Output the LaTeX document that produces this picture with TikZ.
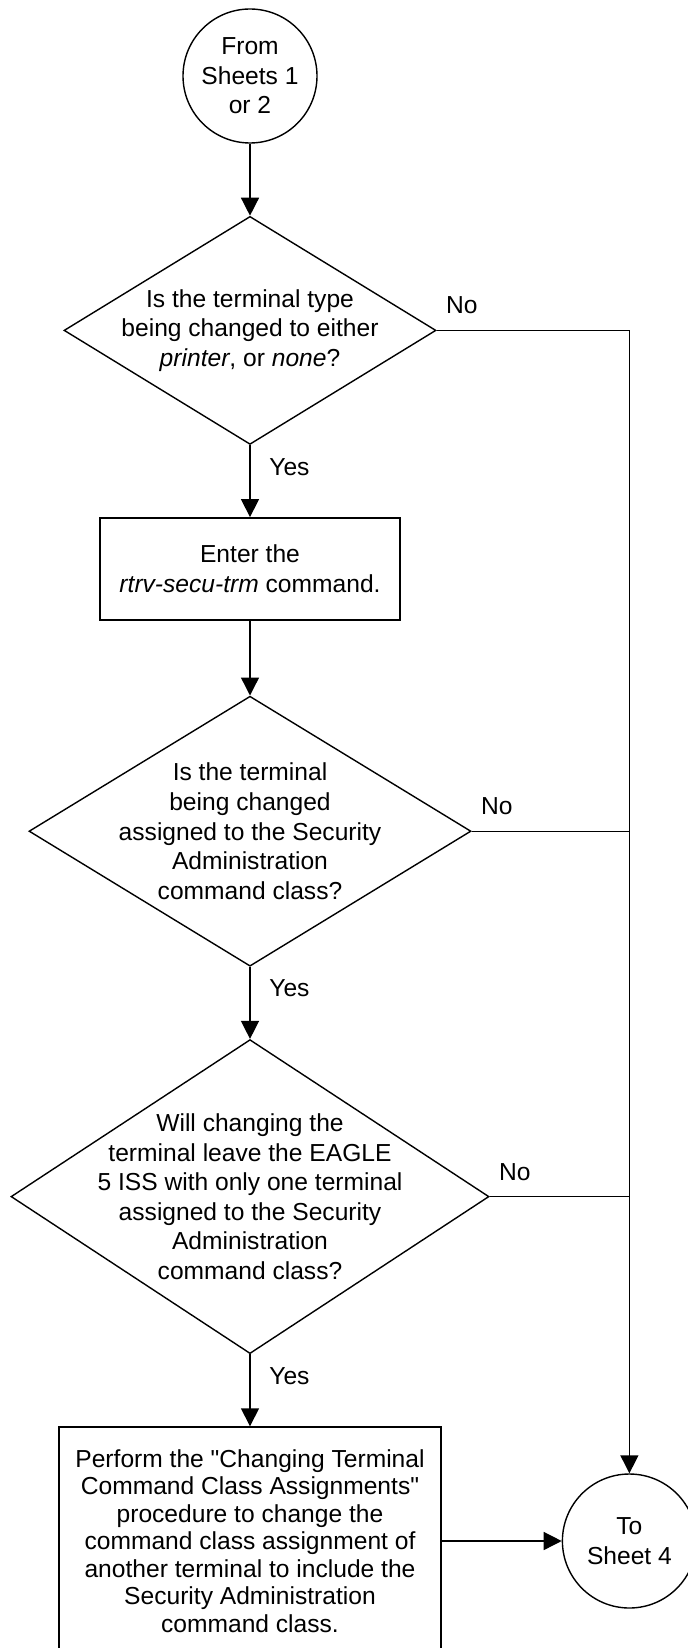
\documentclass[tikz,border=0pt]{standalone}
\usepackage{fontspec}
\setmainfont{Liberation Sans}[Ligatures=TeXOff]
\usetikzlibrary{arrows.meta, positioning, shapes.geometric}
\newcommand{\flowfont}{\fontsize{12.3pt}{14.8pt}\selectfont}

\begin{document}
\begin{tikzpicture}[
    x=0.5pt, y=-0.5pt,
    connector/.style={draw, circle, minimum size=67pt, inner sep=0pt, align=center, font=\flowfont},
    process/.style={draw, rectangle, minimum height=51pt, inner sep=0pt, align=center, font=\flowfont},
    decision/.style={draw, diamond, inner sep=0pt},
    question/.style={align=center, font=\flowfont},
    answer/.style={font=\flowfont},
    line width=0.7pt,
    >={Triangle[length=9pt, width=9pt]},
    node distance=36pt
]
    \useasboundingbox (0,0) rectangle (688,1648);

    % Off-page connectors and steps
    \node[connector] (start) at (250,76) {From\\Sheets 1\\or 2};
    \node[decision, minimum width=186pt, minimum height=114pt, below=of start,
        label={[question]center:{Is the terminal type\\being changed to either\\\textit{printer}, or \textit{none}?}}] (typechk) {};
    \node[process, minimum width=150pt, below=of typechk] (rtrv) {Enter the\\\textit{rtrv-secu-trm} command.};
    \node[decision, minimum width=221pt, minimum height=135pt, below=37.5pt of rtrv,
        label={[question]center:{Is the terminal\\being changed\\assigned to the Security\\Administration\\command class?}}] (secchk) {};
    \node[decision, minimum width=239pt, minimum height=157pt, below=of secchk,
        label={[question]center:{Will changing the\\terminal leave the EAGLE\\5 ISS with only one terminal\\assigned to the Security\\Administration\\command class?}}] (lastchk) {};
    \node[process, minimum width=191pt, minimum height=114pt, below=of lastchk,
        font=\fontsize{12.3pt}{13.75pt}\selectfont] (chgcls) {Perform the "Changing Terminal\\Command Class Assignments"\\procedure to change the\\command class assignment of\\another terminal to include the\\Security Administration\\command class.};
    \node[connector, right=60pt of chgcls] (sheet4) {To\\Sheet 4};

    % Yes path
    \draw[->] (start) -- (typechk);
    \draw[->] (typechk) -- node[answer, pos=0.3, right, xshift=6pt] {Yes} (rtrv);
    \draw[->] (rtrv) -- (secchk);
    \draw[->] (secchk) -- node[answer, pos=0.3, right, xshift=6pt] {Yes} (lastchk);
    \draw[->] (lastchk) -- node[answer, pos=0.3, right, xshift=6pt] {Yes} (chgcls);
    \draw[->] (chgcls) -- (sheet4);

    % No path
    \draw[->] (typechk.east) node[answer, anchor=south west, xshift=1pt, yshift=4.5pt] {No} -| (sheet4.north);
    \draw (secchk.east) node[answer, anchor=south west, xshift=1pt, yshift=4.5pt] {No} -- (secchk.east -| sheet4.north);
    \draw (lastchk.east) node[answer, anchor=south west, xshift=1pt, yshift=4.5pt] {No} -- (lastchk.east -| sheet4.north);
\end{tikzpicture}
\end{document}
